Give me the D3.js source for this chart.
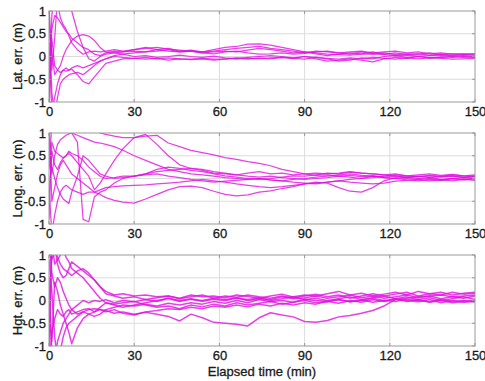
<!DOCTYPE html>
<html>
<head>
<meta charset="utf-8">
<script src="https://cdn.jsdelivr.net/npm/d3@7/dist/d3.min.js"></script>
<style>
  html, body { margin: 0; padding: 0; background: #fff; }
  svg text { font-family: "Liberation Sans", Arial, sans-serif; fill: #1a1a1a; stroke: #1a1a1a; stroke-width: 0.3px; }
</style>
</head>
<body>
<svg id="chart" width="485" height="381"></svg>
<script>
// Sample times (min) shared by every run
const times = [0,1,2,3,4,5,6,7,8,10,12,14,16,18,20,23,26,30,
  34,38,42,46,50,54,58,62,66,70,74,78,82,86,90,94,98,102,106,110,114,118,
  122,126,130,134,138,142,146,150];

const xTicks = [0, 30, 60, 90, 120, 150];
const yTicks = [-1, -0.5, 0, 0.5, 1];
const yTickLabels = ["-1", "-0.5", "0", "0.5", "1"];
const panelLabels = ["Lat. err. (m)", "Long. err. (m)", "Hgt. err. (m)"];
const xTitle = "Elapsed time (min)";

// Latitude error runs (m)
const latRuns = [
  [-1.3,0.9,1.4,1.2,0.85,0.7,0.6,0.45,0.3, 0.15,0.05,0.1,0.12,0.1,0.12, 0.15,0.12,0.15,
   0.18,0.2,0.16,0.14,0.12,0.1,0.15,0.2,0.22,0.27,0.28,0.25,0.2,0.15,0.1,0.08,0.05,0.04,0.03,0.05,0.06,0.04,0.02,0.03,0.01,0.02,0.03,0.01,0.02,0.0],
  [1.2,-0.3,0.4,1.3,1.6,1.5,1.3,1.15,1.0, 0.55,0.2,-0.05,-0.1,0.0,0.05, 0.08,0.1,0.12,
   0.1,0.15,0.12,0.1,0.12,0.08,0.1,0.12,0.1,0.14,0.18,0.15,0.12,0.08,0.1,0.06,0.02,0.05,0.08,0.06,0.1,0.05,0.08,0.04,0.06,0.03,0.05,0.02,0.04,0.03],
  [0.8,0.1,-0.4,-0.3,-0.2,0.0,0.15,0.25,0.35, 0.45,0.48,0.45,0.35,0.2,0.1, 0.08,0.05,0.0,
   0.02,-0.02,0.0,0.03,0.0,-0.02,0.01,-0.03,-0.05,-0.02,0.0,0.02,0.0,-0.03,0.0,-0.05,-0.1,-0.08,-0.05,-0.08,-0.12,-0.05,-0.02,-0.04,0.0,-0.03,-0.02,0.0,-0.02,-0.01],
  [-0.9,0.4,-0.2,-0.3,-0.35,-0.3,-0.32,-0.3,-0.28, -0.4,-0.55,-0.6,-0.45,-0.3,-0.15, -0.1,-0.05,-0.04,
   -0.02,-0.05,-0.03,-0.05,-0.06,-0.04,-0.06,-0.05,-0.03,-0.04,-0.05,-0.03,-0.02,-0.04,0.0,-0.02,-0.05,-0.1,-0.08,-0.03,-0.05,0.0,0.02,-0.02,0.0,-0.03,-0.01,-0.02,0.0,-0.02],
  [0.3,-1.2,-0.9,-0.6,-0.4,-0.3,-0.25,-0.3,-0.25, -0.2,-0.25,-0.2,-0.15,-0.1,-0.05, 0.02,0.05,0.08,
   0.1,0.12,0.15,0.1,0.12,0.08,0.06,0.1,0.12,0.08,0.05,0.06,0.08,0.05,0.07,0.1,0.12,0.08,0.05,0.1,0.06,0.08,0.04,0.06,0.05,0.08,0.04,0.06,0.05,0.06],
  [-0.5,0.6,0.9,0.85,0.75,0.65,0.55,0.5,0.4, 0.3,0.2,0.15,0.05,0.02,0.08, 0.12,0.1,0.15,
   0.2,0.15,0.18,0.12,0.14,0.1,0.12,0.15,0.18,0.2,0.22,0.18,0.15,0.12,0.08,0.12,0.1,0.08,0.1,0.12,0.08,0.1,0.12,0.08,0.1,0.06,0.08,0.05,0.06,0.05],
  [1.1,-0.8,-1.3,-0.9,-0.6,-0.5,-0.45,-0.4,-0.38, -0.35,-0.4,-0.3,-0.2,-0.1,-0.05, 0.0,-0.02,-0.04,
   -0.06,-0.04,-0.08,-0.05,-0.07,-0.05,-0.08,-0.06,-0.04,-0.06,-0.03,-0.05,-0.02,-0.04,-0.06,-0.02,-0.04,-0.06,-0.03,-0.05,-0.02,-0.04,-0.06,-0.03,-0.05,-0.03,-0.04,-0.06,-0.05,-0.04]
];

// Longitude error runs (m)
const longRuns = [
  [1.0,1.3,1.5,1.6,1.6,1.5,1.45,1.4,1.35, 1.3,1.2,1.1,1.05,1.0,0.97, 0.93,0.9,0.9,
   0.93,0.95,0.78,0.7,0.62,0.57,0.52,0.46,0.42,0.37,0.33,0.28,0.2,0.15,0.1,0.07,0.08,0.05,0.07,0.04,0.06,0.03,0.05,0.02,0.04,0.06,0.03,0.05,0.02,0.04],
  [0.2,1.2,1.5,1.4,1.3,1.2,1.1,1.05,1.0, 0.95,0.9,0.85,0.8,0.78,0.75, 0.7,0.62,0.5,
   0.4,0.3,0.2,0.15,0.1,0.08,0.05,0.02,0.0,-0.02,0.0,-0.03,-0.05,-0.02,0.0,0.03,0.05,0.08,0.1,0.07,0.05,0.02,0.0,0.03,0.05,0.02,0.04,0.06,0.03,0.05],
  [-0.4,0.6,0.3,0.2,0.35,0.45,0.5,0.55,0.5, 0.35,0.2,0.05,-0.25,-0.1,0.1, 0.4,0.65,0.9,
   0.97,0.75,0.5,0.3,0.22,0.2,0.15,0.12,0.08,0.05,0.03,0.05,0.02,0.0,-0.02,0.0,0.02,0.05,0.03,0.0,0.02,0.05,0.08,0.06,0.04,0.07,0.05,0.08,0.06,0.05],
  [0.9,0.1,0.5,0.75,0.85,0.9,0.95,0.98,1.0, 0.8,-0.9,-0.95,-0.4,-0.3,-0.25, -0.1,0.0,0.05,
   0.1,0.15,0.18,0.2,0.22,0.18,0.12,0.1,0.08,0.12,0.15,0.1,0.12,0.08,0.1,0.12,0.1,0.12,0.15,0.12,0.1,0.08,0.1,0.06,0.08,0.1,0.07,0.09,0.06,0.08],
  [0.3,0.25,0.0,-0.2,-0.35,-0.45,-0.5,-0.55,-0.3, 0.05,0.5,0.4,0.25,0.1,0.05, 0.0,0.02,0.05,
   0.1,0.2,0.25,0.22,0.18,0.15,0.1,0.06,0.03,0.0,-0.02,0.0,0.03,0.06,0.05,0.08,0.12,0.1,0.14,0.12,0.1,0.08,0.06,0.03,0.0,0.02,-0.02,0.0,0.02,0.0],
  [-0.9,0.8,0.6,0.55,0.5,0.45,0.5,0.6,0.55, 0.5,0.4,0.25,0.15,0.05,0.0, 0.02,0.05,0.05,
   0.08,0.1,0.05,0.02,-0.02,-0.05,-0.08,-0.06,-0.04,-0.02,0.0,-0.03,-0.05,-0.08,-0.1,-0.12,-0.08,-0.05,-0.02,0.0,0.05,0.02,0.0,-0.03,-0.05,-0.02,-0.04,-0.01,-0.03,0.0],
  [-0.2,-1.2,-0.8,-0.5,-0.3,-0.2,-0.15,-0.2,-0.25, -0.3,-0.35,-0.3,-0.3,-0.35,-0.42, -0.48,-0.52,-0.54,
   -0.45,-0.35,-0.25,-0.18,-0.17,-0.2,-0.28,-0.35,-0.38,-0.36,-0.3,-0.27,-0.22,-0.18,-0.12,-0.1,-0.08,-0.05,-0.08,-0.1,-0.12,-0.1,-0.06,-0.04,-0.02,-0.05,-0.03,-0.05,-0.02,-0.04],
  [1.3,-0.5,-0.2,0.1,0.3,0.4,0.3,0.2,0.1, 0.0,-0.1,-0.2,-0.3,-0.25,-0.2, -0.18,-0.16,-0.15,
   -0.14,-0.12,-0.1,-0.08,-0.05,-0.02,-0.05,-0.08,-0.12,-0.15,-0.18,-0.2,-0.18,-0.15,-0.12,-0.08,-0.1,-0.2,-0.28,-0.3,-0.2,-0.05,0.02,0.0,-0.02,0.0,-0.03,0.0,-0.02,-0.01]
];

// Height error runs (m)
const hgtRuns = [
  [-1.5,-0.7,-0.4,-0.2,-0.3,-0.35,-0.25,-0.2,-0.3, -0.25,-0.2,-0.18,-0.25,-0.2,-0.22, -0.28,-0.25,-0.3,
   -0.26,-0.3,-0.35,-0.45,-0.3,-0.38,-0.48,-0.5,-0.52,-0.56,-0.38,-0.27,-0.32,-0.36,-0.46,-0.48,-0.44,-0.36,-0.33,-0.28,-0.22,-0.12,0.02,0.05,0.08,0.1,0.12,0.08,0.1,0.12],
  [1.2,0.9,1.1,0.95,0.8,0.7,0.65,0.6,0.55, 0.65,0.7,0.6,0.45,0.3,0.2, 0.12,0.15,0.1,
   0.12,0.08,0.1,0.05,0.12,0.08,0.1,0.06,0.12,0.09,0.05,0.1,0.14,0.08,0.12,0.1,0.15,0.2,0.12,0.16,0.1,0.14,0.18,0.12,0.2,0.15,0.18,0.12,0.16,0.18],
  [-0.8,1.3,0.8,0.9,1.0,1.1,0.95,0.85,0.7, 0.6,0.5,0.35,0.2,0.05,-0.05, -0.1,-0.15,-0.1,
   -0.05,0.0,0.05,-0.02,0.03,0.0,0.05,0.02,0.06,0.0,0.04,0.02,0.08,0.04,0.06,0.1,0.05,0.08,0.12,0.06,0.1,0.05,0.08,0.12,0.06,0.1,0.04,0.08,0.05,0.1],
  [0.5,-1.2,-1.3,-0.9,-0.7,-0.5,-0.4,-0.3,-0.2, -0.1,0.0,-0.05,0.0,-0.02,0.02, -0.05,0.0,-0.03,
   0.02,-0.02,0.05,0.0,0.04,-0.02,0.03,0.0,0.05,0.02,0.06,0.0,0.04,0.08,0.02,0.05,0.0,0.04,0.08,0.02,0.06,0.1,0.04,0.08,0.02,0.06,0.0,0.04,0.08,0.02],
  [0.9,0.2,-0.8,-1.3,-1.1,-0.8,-0.6,-0.5,-0.45, -0.35,-0.25,-0.2,-0.18,-0.2,-0.25, -0.2,-0.28,-0.32,
   -0.25,-0.22,-0.18,-0.2,-0.15,-0.18,-0.12,-0.15,-0.1,-0.14,-0.08,-0.12,-0.06,-0.1,-0.05,-0.08,-0.02,-0.06,0.0,-0.04,0.02,-0.02,0.04,0.0,-0.03,0.02,-0.05,0.0,-0.04,-0.02],
  [1.4,0.6,0.3,0.5,0.4,0.2,0.05,-0.1,-0.2, -0.3,-0.25,-0.3,-0.35,-0.3,-0.2, -0.15,-0.1,-0.12,
   -0.08,-0.12,-0.06,-0.1,-0.05,-0.08,-0.02,-0.06,0.0,-0.05,0.02,-0.03,0.0,-0.04,0.03,0.0,-0.02,0.02,-0.03,0.01,-0.04,0.0,-0.02,0.03,0.0,-0.03,0.02,-0.02,0.0,-0.03],
  [-1.1,1.1,1.2,0.8,0.6,0.5,0.55,0.7,0.85, 0.75,0.65,0.55,0.45,0.3,0.15, 0.1,0.05,0.08,
   0.02,0.06,0.1,0.04,0.08,0.12,0.05,0.1,0.07,0.12,0.08,0.05,0.1,0.06,0.1,0.14,0.08,0.12,0.05,0.1,0.15,0.1,0.14,0.18,0.1,0.15,0.12,0.18,0.14,0.16],
  [-0.3,-0.9,0.4,0.2,-0.1,-0.3,-0.5,-0.7,-0.95, -0.6,-0.4,-0.3,-0.25,-0.15,-0.05, -0.08,-0.05,-0.02,
   -0.1,-0.15,-0.12,-0.18,-0.1,-0.14,-0.08,-0.12,-0.05,-0.1,-0.06,-0.02,-0.08,-0.04,0.0,-0.05,-0.02,0.02,-0.03,0.0,0.05,0.0,0.03,-0.02,0.02,-0.04,0.0,-0.05,-0.02,0.0]
];

const panels = [latRuns, longRuns, hgtRuns];
const panelTops = [11, 133, 255];
const panelHeight = 91;
const left = 49, right = 475;
const lineColor = "#e010e0";

const svg = d3.select("#chart");
const x = d3.scaleLinear().domain([0, 150]).range([left, right]);

panels.forEach((runs, i) => {
  const top = panelTops[i], bottom = top + panelHeight;
  const y = d3.scaleLinear().domain([-1, 1]).range([bottom, top]);
  const g = svg.append("g");

  // grid
  g.selectAll(".gx").data(xTicks.slice(1, -1)).join("line")
    .attr("x1", d => x(d)).attr("x2", d => x(d))
    .attr("y1", top).attr("y2", bottom)
    .attr("stroke", "#dcdcdc").attr("stroke-width", 1);
  g.selectAll(".gy").data([-0.5, 0, 0.5]).join("line")
    .attr("x1", left).attr("x2", right)
    .attr("y1", d => y(d)).attr("y2", d => y(d))
    .attr("stroke", "#dcdcdc").attr("stroke-width", 1);

  // runs
  const clipId = "clip" + i;
  svg.append("clipPath").attr("id", clipId).append("rect")
    .attr("x", left).attr("y", top).attr("width", right - left).attr("height", panelHeight);
  const line = d3.line().x((d, k) => x(times[k])).y(d => y(d));
  g.append("g").attr("clip-path", `url(#${clipId})`)
    .selectAll("path").data(runs).join("path")
    .attr("d", line)
    .attr("fill", "none")
    .attr("stroke", lineColor)
    .attr("stroke-width", i === 2 ? 1.5 : 1.25)
    .attr("stroke-opacity", 0.8)
    .attr("stroke-linejoin", "round");

  // frame
  g.append("rect").attr("x", left).attr("y", top)
    .attr("width", right - left).attr("height", panelHeight)
    .attr("fill", "none").attr("stroke", "#999").attr("stroke-width", 1);

  // inner ticks
  const tickLen = 3;
  g.selectAll(".tx").data(xTicks).join("path")
    .attr("d", d => `M${x(d)},${bottom}v${-tickLen}M${x(d)},${top}v${tickLen}`)
    .attr("stroke", "#999");
  g.selectAll(".ty").data(yTicks).join("path")
    .attr("d", d => `M${left},${y(d)}h${tickLen}M${right},${y(d)}h${-tickLen}`)
    .attr("stroke", "#999");

  // axes labels
  const xAxis = d3.axisBottom(x).tickValues(xTicks).tickSize(0).tickPadding(0);
  const ax = g.append("g").attr("transform", `translate(0,${bottom + 5})`).call(xAxis);
  ax.select(".domain").remove();
  ax.selectAll("text").attr("font-size", 13)
    .attr("font-family", "Liberation Sans, Arial, sans-serif").attr("dy", "0.71em");

  const yAxis = d3.axisLeft(y).tickValues(yTicks).tickSize(0).tickPadding(3)
    .tickFormat((d, k) => yTickLabels[k]);
  const ay = g.append("g").attr("transform", `translate(${left},0)`).call(yAxis);
  ay.select(".domain").remove();
  ay.selectAll("text").attr("font-size", 13)
    .attr("font-family", "Liberation Sans, Arial, sans-serif");

  g.append("text")
    .attr("transform", `translate(17,${(top + bottom) / 2}) rotate(-90)`)
    .attr("text-anchor", "middle").attr("dy", "0.35em")
    .attr("font-size", 13)
    .text(panelLabels[i]);
});

svg.append("text")
  .attr("x", (left + right) / 2).attr("y", 376)
  .attr("text-anchor", "middle").attr("font-size", 13)
  .text(xTitle);
</script>
</body>
</html>
